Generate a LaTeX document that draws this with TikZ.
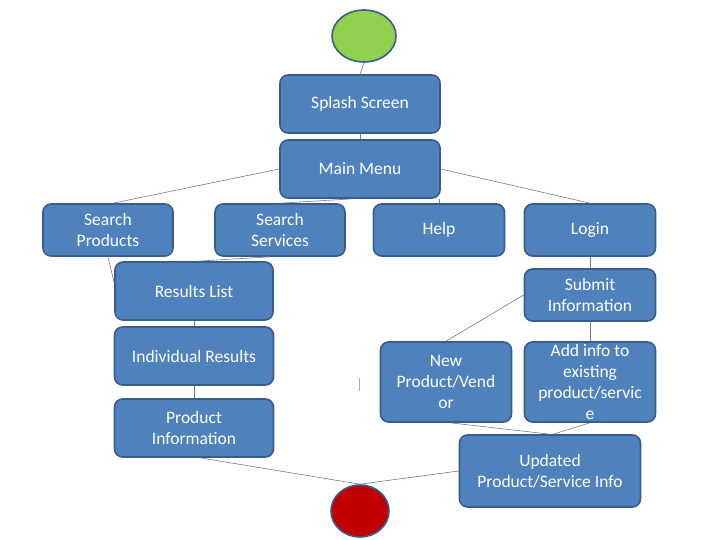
\documentclass[tikz,border=0pt]{standalone}
\usepackage{fontspec}
\setmainfont{Carlito}
\usepackage{tikz}
\usetikzlibrary{shapes.geometric}
\definecolor{boxblue}{RGB}{79,129,189}
\definecolor{boxedge}{RGB}{56,93,138}
\definecolor{startgreen}{RGB}{146,208,80}
\definecolor{stopred}{RGB}{192,0,0}
\definecolor{linkgray}{RGB}{105,125,155}

\begin{document}
\begin{tikzpicture}[x=1pt, y=-1pt,
		screen/.style={draw=boxedge, line width=1.6pt, fill=boxblue, rounded corners=8pt, text=white, align=center, inner sep=0pt, minimum width=#1},
		screen/.default=131pt,
		terminal/.style={ellipse, draw=boxedge, line width=1.6pt, fill=#1, minimum width=64pt, minimum height=52pt},
		link/.style={draw=linkgray, line width=0.6pt},
		font=\fontsize{17.5}{21}\selectfont]
	\useasboundingbox (0,0) rectangle (720,540);
	\node[terminal=startgreen] (start) at (364,36) {};
	\node[screen=160pt, minimum height=58pt] (splash) at (360,104) {Splash Screen};
	\node[screen=160pt, minimum height=58pt] (menu) at (360,169) {Main Menu};
	\node[screen=130pt, minimum height=52pt] (sprod) at (108,230) {Search\\Products};
	\node[screen=130pt, minimum height=52pt] (sserv) at (280,230) {Search\\Services};
	\node[screen, minimum height=52pt] (help) at (439,230) {Help};
	\node[screen, minimum height=52pt] (login) at (590,230) {Login};
	\node[screen=158pt, minimum height=58pt] (results) at (194,291) {Results List};
	\node[screen, minimum height=52pt] (submit) at (590,295) {Submit\\Information};
	\node[screen=159pt, minimum height=58pt] (indiv) at (194,356) {Individual Results};
	\node[screen=159pt, minimum height=58pt] (prodinfo) at (194,428) {Product\\Information};
	\node[screen, minimum height=80pt] (newprod) at (446,382) {New\\Product/Vend\\or};
	\node[screen, minimum height=80pt] (addinfo) at (590,382) {Add info to\\existing\\product/servic\\e};
	\node[screen=181pt, minimum height=72pt] (updated) at (550,471) {Updated\\Product/Service Info};
	\node[terminal=stopred, minimum width=58pt] (stop) at (360,511) {};
	%Verbindungen
	\draw[link] (start.south) -- (splash.north);
	\draw[link] (splash.south) -- (menu.north);
	\draw[link] (menu.west) -- ([xshift=5pt]sprod.north);
	\draw[link] ([xshift=-7pt]menu.south) -- (sserv.north);
	\draw[link] (menu.south -| help.north) -- (help.north);
	\draw[link] (menu.east) -- (login.north);
	\draw[link] (sprod.south) -- ([yshift=8pt]results.west);
	\draw[link] ([xshift=-10pt]sserv.south) -- ([xshift=3pt]results.north);
	\draw[link] (results.south) -- (indiv.north);
	\draw[link] (indiv.south) -- (prodinfo.north);
	\draw[link] ([xshift=6pt]prodinfo.south) -- (stop.north);
	\draw[link] (stop.north) -- (updated.west);
	\draw[link] (login.south) -- (submit.north);
	\draw[link] (submit.west) -- (newprod.north);
	\draw[link] (submit.south) -- (addinfo.north);
	\draw[link] ([xshift=4pt]newprod.south) -- (updated.north);
	\draw[link] (addinfo.south) -- ([xshift=3pt]updated.north);
	\draw[linkgray!60, line width=1pt] (359,378) -- (359,391);
\end{tikzpicture}
\end{document}
